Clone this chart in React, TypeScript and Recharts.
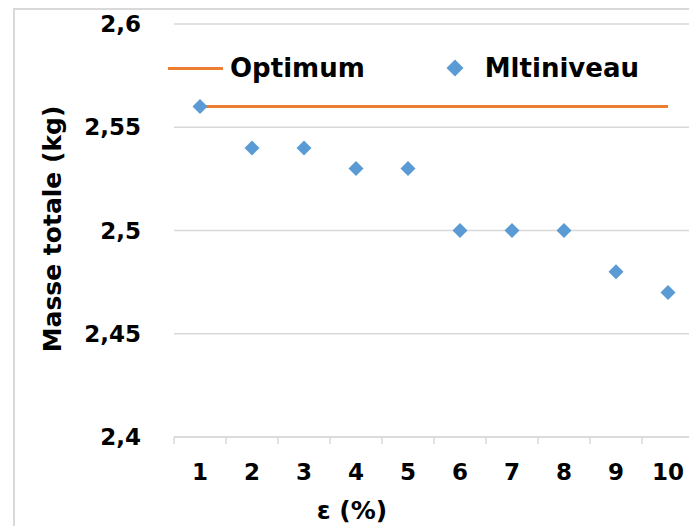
import React from 'react';
import { ComposedChart, Line, Scatter, XAxis, YAxis, CartesianGrid, Label } from 'recharts';

// epsilon (%) categories
const categories = ['1', '2', '3', '4', '5', '6', '7', '8', '9', '10'];
// Mltiniveau total mass (kg)
const multiLevel = [2.56, 2.54, 2.54, 2.53, 2.53, 2.5, 2.5, 2.5, 2.48, 2.47];
// Optimum total mass (kg)
const optimum = [2.56, 2.56, 2.56, 2.56, 2.56, 2.56, 2.56, 2.56, 2.56, 2.56];
const yTicks = [2.4, 2.45, 2.5, 2.55, 2.6];

const ORANGE = '#ED7D31';
const BLUE = '#5B9BD5';
const GRID = '#D9D9D9';
const FONT = '"DejaVu Sans", Verdana, sans-serif';

const data = categories.map((c, i) => ({ eps: c, mass: multiLevel[i], opt: optimum[i] }));

const Diamond = (props: any) => {
  const { cx, cy } = props;
  const r = 7.5;
  return <polygon points={`${cx},${cy - r} ${cx + r},${cy} ${cx},${cy + r} ${cx - r},${cy}`} fill={BLUE} />;
};

const XTick = (props: any) => {
  const { x, y, payload, index, width, visibleTicksCount } = props;
  const step = width / visibleTicksCount;
  return (
    <g>
      <line x1={x - step / 2} x2={x - step / 2} y1={y} y2={y + 7} stroke={GRID} strokeWidth={1.5} />
      {index === visibleTicksCount - 1 && (
        <line x1={x + step / 2} x2={x + step / 2} y1={y} y2={y + 7} stroke={GRID} strokeWidth={1.5} />
      )}
      <text x={x} y={y + 43} textAnchor="middle" fontSize={23} fontWeight="bold" fontFamily={FONT} fill="#000">
        {payload.value}
      </text>
    </g>
  );
};

const App = () => {
  return (
    <div style={{ position: 'fixed', left: 0, top: 0, width: 689, height: 526, overflow: 'hidden', background: '#fff' }}>
      <div style={{ position: 'absolute', left: 13, top: 8, width: 720, height: 600, borderLeft: `2px solid ${GRID}`, borderTop: `2px solid ${GRID}` }} />
      <ComposedChart width={720} height={526} data={data} margin={{ top: 24, right: 26, left: 0, bottom: 0 }} style={{ position: 'absolute', left: 0, top: 0 }}>
        <CartesianGrid vertical={false} stroke={GRID} strokeWidth={1.5} />
        <XAxis
          dataKey="eps"
          scale="band"
          height={89}
          axisLine={{ stroke: GRID, strokeWidth: 1.5 }}
          tickLine={false}
          tickSize={0}
          tickMargin={0}
          tick={<XTick />}
          interval={0}
        >
          <Label
            content={() => (
              <text x={352} y={519} textAnchor="middle" fontSize={25} fontWeight="bold" fontFamily={FONT} fill="#000">
                ε (%)
              </text>
            )}
          />
        </XAxis>
        <YAxis
          width={174}
          domain={[2.4, 2.6]}
          ticks={yTicks}
          axisLine={false}
          tickLine={false}
          tickMargin={27}
          tickFormatter={(v: number) => String(v).replace('.', ',')}
          tick={{ fontSize: 23, fontWeight: 'bold', fontFamily: FONT, fill: '#000' }}
        >
          <Label
            content={() => (
              <text
                x={52}
                y={229}
                transform="rotate(-90 52 229)"
                textAnchor="middle"
                dominantBaseline="central"
                fontSize={25}
                fontWeight="bold"
                fontFamily={FONT}
                fill="#000"
              >
                Masse totale (kg)
              </text>
            )}
          />
        </YAxis>
        <Line dataKey="opt" stroke={ORANGE} strokeWidth={3} dot={false} isAnimationActive={false} />
        <Scatter dataKey="mass" shape={<Diamond />} isAnimationActive={false} />
      </ComposedChart>
      <div style={{ position: 'absolute', left: 168, top: 52, display: 'flex', alignItems: 'center', fontFamily: FONT, fontWeight: 'bold', fontSize: 26, color: '#000', lineHeight: '32px' }}>
        <span style={{ display: 'inline-block', width: 55, height: 3, background: ORANGE, marginRight: 7 }} />
        <span>Optimum</span>
        <span style={{ display: 'inline-block', width: 12, height: 12, background: BLUE, transform: 'rotate(45deg)', marginLeft: 84, marginRight: 24 }} />
        <span>Mltiniveau</span>
      </div>
    </div>
  );
};

export default App;
